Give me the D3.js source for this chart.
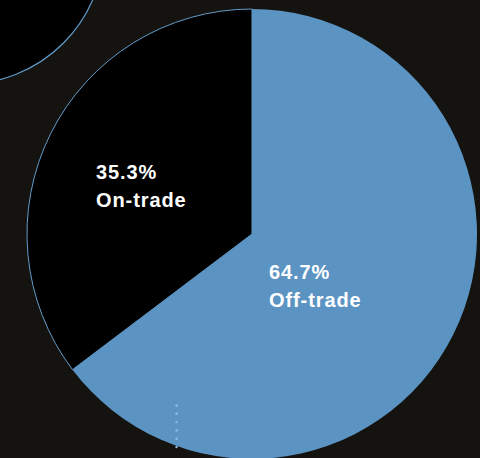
<!DOCTYPE html>
<html>
<head>
<meta charset="utf-8">
<script src="https://cdn.jsdelivr.net/npm/d3@7/dist/d3.min.js"></script>
<style>
  html, body { margin: 0; padding: 0; background: #15130f; }
  svg { display: block; }
</style>
</head>
<body>
<svg id="chart" width="480" height="458"></svg>
<script>
// Sales channel split
const categories = ["On-trade", "Off-trade"];
const shares = [35.3, 64.7];
const percentLabels = ["35.3%", "64.7%"];

const W = 480, H = 458;
const cx = 252, cy = 234, R = 225;
const fills = ["#000000", "#5b94c3"];
const edge = "#629ccb";

const svg = d3.select("#chart");
svg.append("rect").attr("width", W).attr("height", H).attr("fill", "#15130f");

// decorative ring peeking in at the top-left corner
svg.append("circle")
  .attr("cx", -35).attr("cy", -55).attr("r", 139)
  .attr("fill", "#000000")
  .attr("stroke", edge).attr("stroke-width", 1.2);

const data = categories.map((c, i) => ({ name: c, value: shares[i], label: percentLabels[i] }));

// slices run counter-clockwise from 12 o'clock
const pie = d3.pie().value(d => d.value).sort(null)
  .startAngle(0).endAngle(-2 * Math.PI);
const arc = d3.arc().innerRadius(0).outerRadius(R);

const g = svg.append("g").attr("transform", `translate(${cx},${cy})`);
const arcs = pie(data);

g.selectAll("path.slice")
  .data(arcs)
  .join("path")
  .attr("class", "slice")
  .attr("d", arc)
  .attr("fill", (d, i) => fills[i])
  .attr("stroke", (d, i) => i === 0 ? edge : "none")
  .attr("stroke-width", 1);

// label anchor offsets from the pie centre
const labelPos = [[-156, -55], [17, 45]];
const lbl = g.selectAll("text.lbl")
  .data(arcs)
  .join("text")
  .attr("class", "lbl")
  .attr("x", (d, i) => labelPos[i][0])
  .attr("y", (d, i) => labelPos[i][1])
  .attr("fill", "#ffffff")
  .attr("font-family", "Liberation Sans, Arial, Helvetica, sans-serif")
  .attr("font-weight", "bold")
  .attr("font-size", 20)
  .attr("letter-spacing", 0.9);
lbl.append("tspan").attr("x", (d, i) => labelPos[i][0]).text(d => d.data.label);
lbl.append("tspan").attr("x", (d, i) => labelPos[i][0]).attr("dy", 28).text(d => d.data.name);

// dotted guide near the bottom
const dotYs = d3.range(405.5, 453, 8.3);
svg.selectAll("circle.dot")
  .data(dotYs)
  .join("circle")
  .attr("class", "dot")
  .attr("cx", 176.5).attr("cy", d => d)
  .attr("r", 1.2)
  .attr("fill", "#93bfe3");
</script>
</body>
</html>
